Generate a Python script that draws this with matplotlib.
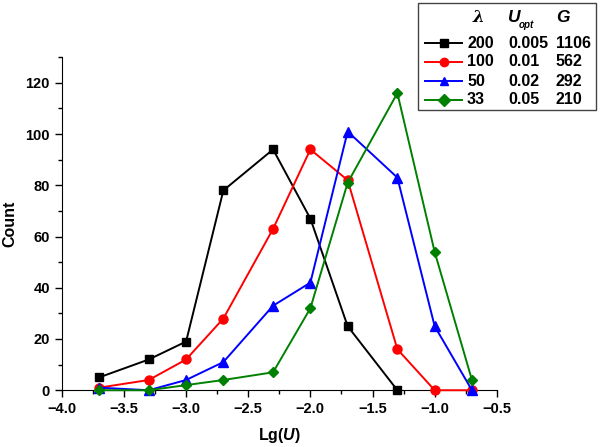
import numpy as np
import matplotlib
matplotlib.use("Agg")
import matplotlib.pyplot as plt
from matplotlib.lines import Line2D
from matplotlib.patches import Rectangle
from matplotlib.ticker import MultipleLocator

plt.rcParams['font.family'] = ['Liberation Sans', 'DejaVu Sans']
plt.rcParams['font.weight'] = 'bold'
plt.rcParams['mathtext.fontset'] = 'custom'
plt.rcParams['mathtext.it'] = 'Liberation Sans:bold:italic'
plt.rcParams['mathtext.rm'] = 'Liberation Sans:bold'

# data
lg_u = [-3.7, -3.3, -3.0, -2.7, -2.3, -2.0, -1.7, -1.3, -1.0, -0.7]
count_200 = [5, 12, 19, 78, 94, 67, 25, 0]
count_100 = [1, 4, 12, 28, 63, 94, 82, 16, 0, 0]
count_50 = [1, 0, 4, 11, 33, 42, 101, 83, 25, 0]
count_33 = [0, 0, 2, 4, 7, 32, 81, 116, 54, 4]

lambdas = ['200', '100', '50', '33']
u_opt = ['0.005', '0.01', '0.02', '0.05']
g_vals = ['1106', '562', '292', '210']
colors = ['black', 'red', 'blue', 'green']
markers = ['s', 'o', '^', 'D']
sizes = [6, 6.5, 6.5, 5.5]
series = [count_200, count_100, count_50, count_33]

fig = plt.figure(figsize=(6, 4.47), dpi=100)
ax = fig.add_axes([0.103, 0.127, 0.725, 0.745])

for ys, c, m, ms in zip(series, colors, markers, sizes):
    ax.plot(lg_u[:len(ys)], ys, color=c, marker=m, markersize=ms,
            linewidth=1.4, clip_on=False, zorder=3)

ax.set_xlim(-4.0, -0.5)
ax.set_ylim(0, 130)
ax.xaxis.set_major_locator(MultipleLocator(0.5))
ax.xaxis.set_minor_locator(MultipleLocator(0.25))
ax.yaxis.set_major_locator(MultipleLocator(20))
ax.yaxis.set_minor_locator(MultipleLocator(10))
ax.tick_params(which='both', direction='out', labelsize=10.5)
ax.tick_params(which='major', length=5, width=1)
ax.tick_params(which='minor', length=3, width=1)
for s in ['top', 'right']:
    ax.spines[s].set_visible(False)
ax.set_xlabel(r'Lg($U$)', fontsize=11.5, fontweight='bold', labelpad=7)
ax.set_ylabel('Count', fontsize=11.5, fontweight='bold', labelpad=6)

# legend box drawn as a small table
W, H = 600, 447
def fx(px):
    return px / W
def fy(py):
    return 1 - py / H

fig.add_artist(Rectangle((fx(418), fy(110)), fx(596) - fx(418), fy(3) - fy(110),
                         transform=fig.transFigure, facecolor='white',
                         edgecolor='#444444', linewidth=1, zorder=5))
fig.text(fx(478), fy(18), '\u03bb', fontsize=12, style='italic', ha='center', va='center',
         family='DejaVu Serif', zorder=6)
fig.text(fx(508), fy(18), 'U', fontsize=12.5, style='italic', ha='left', va='center', zorder=6)
fig.text(fx(519), fy(25), 'opt', fontsize=7, style='italic', ha='left', va='center', zorder=6)
fig.text(fx(556), fy(18), 'G', fontsize=12.5, style='italic', ha='left', va='center', zorder=6)
row_y = [43, 62, 81, 100]
for yy, c, m, lam, u, g in zip(row_y, colors, markers, lambdas, u_opt, g_vals):
    fig.add_artist(Line2D([fx(425), fx(462)], [fy(yy), fy(yy)], color=c, linewidth=1.4,
                          transform=fig.transFigure, zorder=6))
    fig.add_artist(Line2D([fx(444)], [fy(yy)], color=c, marker=m, markersize=6,
                          transform=fig.transFigure, zorder=7))
    fig.text(fx(467), fy(yy), lam, fontsize=11.5, ha='left', va='center', zorder=6)
    fig.text(fx(508), fy(yy), u, fontsize=11.5, ha='left', va='center', zorder=6)
    fig.text(fx(556), fy(yy), g, fontsize=11.5, ha='left', va='center', zorder=6)

fig.savefig('out.png', dpi=100)
